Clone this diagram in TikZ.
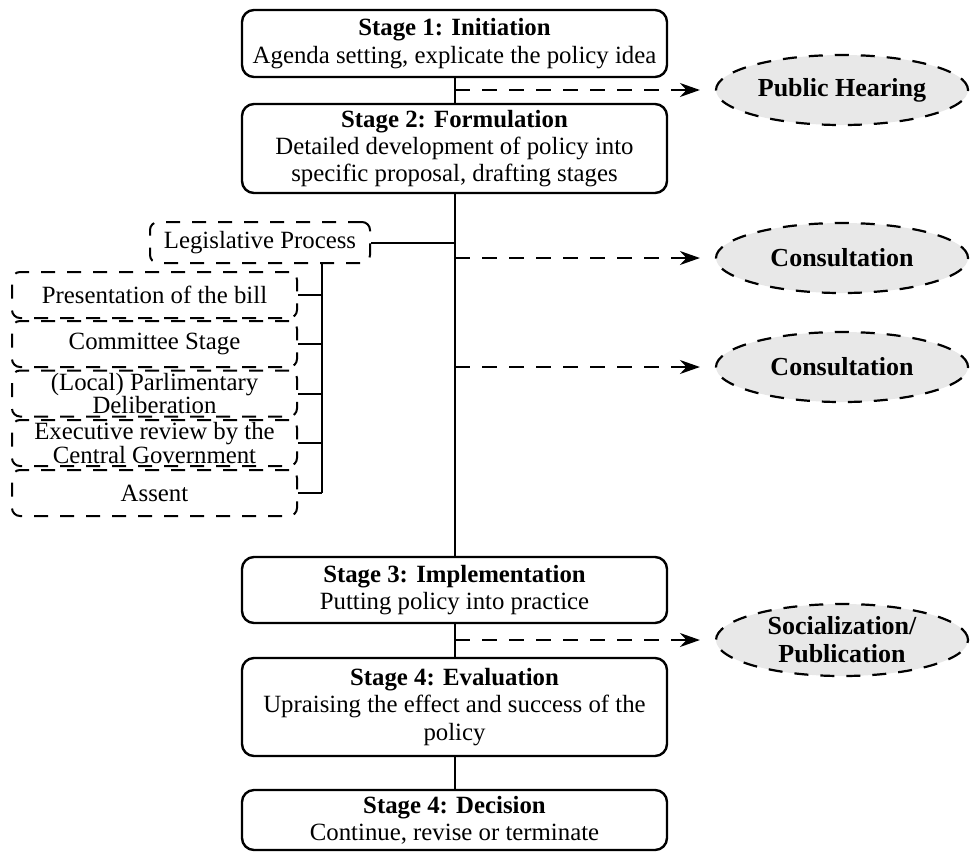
\documentclass[tikz,border=0pt]{standalone}
\usepackage{fontspec}
\setmainfont{Liberation Serif}
\usetikzlibrary{positioning,shapes.geometric,arrows.meta}
\tikzset{
  stageBox/.style={rectangle, rounded corners=6pt, draw, line width=1.2pt, align=center, minimum width=212.5pt, inner sep=1pt},
  subBox/.style={rectangle, rounded corners=4pt, draw, line width=1pt, dash pattern=on 7pt off 6pt, minimum width=142.5pt, minimum height=23pt},
  subText/.style={align=center, inner sep=0pt, font={\fontsize{12.4}{11.8}\selectfont\lineskiplimit=-20pt}},
  extEllipse/.style={ellipse, draw, fill=gray!18, line width=1.1pt, dash pattern=on 7pt off 6pt, minimum width=126pt, minimum height=35pt, inner sep=0pt, font={\fontsize{13}{14}\selectfont\bfseries}, align=center},
  feedOp/.style={line width=1pt, dash pattern=on 7.5pt off 6pt, -{Stealth[length=10pt,width=7pt]}, shorten >=7.5pt},
  linkLine/.style={line width=1pt}
}

\begin{document}
\begin{tikzpicture}[x=0.5pt, y=-0.5pt, font={\fontsize{12.4}{13.7}\selectfont}]
      \useasboundingbox (0,0) rectangle (972,852);

      % main stages
      \node[stageBox, minimum height=33.5pt] (init) at (454.5,43.5) {\textbf{Stage 1: Initiation}\\Agenda setting, explicate the policy idea};
      \node[stageBox, minimum height=44.5pt] (form) at (454.5,148.5) {\textbf{Stage 2: Formulation}\\Detailed development of policy into\\specific proposal, drafting stages};
      \node[stageBox, minimum height=33pt] (impl) at (454.5,590) {\textbf{Stage 3: Implementation}\\Putting policy into practice};
      \node[stageBox, minimum height=49pt] (eval) at (454.5,707) {\textbf{Stage 4: Evaluation}\\Upraising the effect and success of the\\policy};
      \node[stageBox, minimum height=30pt] (deci) at (454.5,820) {\textbf{Stage 4: Decision}\\Continue, revise or terminate};

      \draw[linkLine] (init) -- (form);
      \draw[linkLine] (form) -- (impl);
      \draw[linkLine] (impl) -- (eval);
      \draw[linkLine] (eval) -- (deci);

      % legislative process
      \node[subBox, minimum width=110pt, minimum height=20.5pt] (legis) at (260,242.5) {Legislative Process};
      \draw[linkLine] (legis.east) -- (legis.east -| form.south);

      \node[subBox, label={[subText]center:Presentation of the bill}] (bill) at (154.5,295) {};
      \node[subBox, label={[subText]center:Committee Stage}] (comm) at (154.5,344) {};
      \node[subBox, label={[subText]center:{(Local) Parlimentary\\Deliberation}}] (delib) at (154.5,393.5) {};
      \node[subBox, label={[subText]center:{Executive review by the\\Central Government}}] (exec) at (154.5,443) {};
      \node[subBox, label={[subText]center:Assent}] (assent) at (154.5,493) {};

      \coordinate (trunk) at (322,263);
      \draw[linkLine] (trunk) -- (trunk |- assent.east);
      \foreach \b in {bill,comm,delib,exec,assent}
        \draw[linkLine] (\b.east) -- (\b.east -| trunk);

      % outside inputs
      \node[extEllipse] (hear) at (842,90) {Public Hearing};
      \node[extEllipse] (cons1) at (842,258) {Consultation};
      \node[extEllipse] (cons2) at (842,367) {Consultation};
      \node[extEllipse, minimum height=36pt] (soc) at (842,640) {Socialization/\\Publication};

      \coordinate (j1) at (455,90);
      \coordinate (j2) at (455,258);
      \coordinate (j3) at (455,367);
      \coordinate (j4) at (455,640);
      \draw[feedOp] (j1) -- (hear.west);
      \draw[feedOp] (j2) -- (cons1.west);
      \draw[feedOp] (j3) -- (cons2.west);
      \draw[feedOp] (j4) -- (soc.west);

    \end{tikzpicture}
\end{document}
